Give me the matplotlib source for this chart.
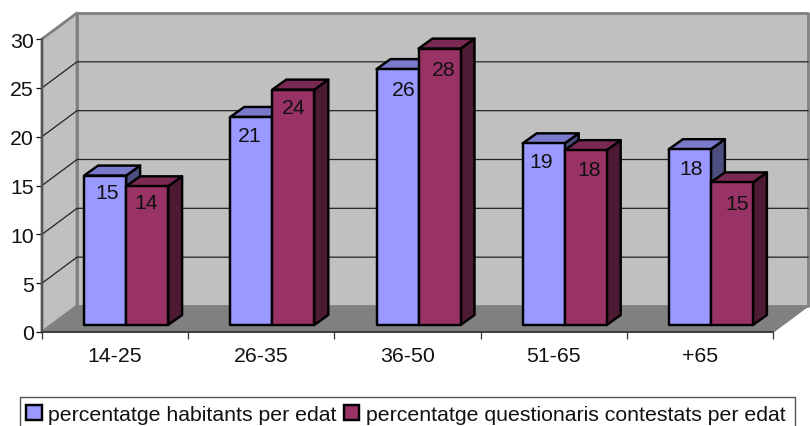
import matplotlib
matplotlib.use("Agg")
import matplotlib.pyplot as plt
from matplotlib.patches import Polygon, Patch, Rectangle
import numpy as np

categories = ["14-25", "26-35", "36-50", "51-65", "+65"]
habitants = [15.3, 21.3, 26.2, 18.6, 18.0]
questionaris = [14.2, 24.1, 28.3, 17.9, 14.6]
habitants_labels = ["15", "21", "26", "19", "18"]
questionaris_labels = ["14", "24", "28", "18", "15"]
series_names = ["percentatge habitants per edat", "percentatge questionaris contestats per edat"]
yticks = [0, 5, 10, 15, 20, 25, 30]

plt.rcParams["font.family"] = ["Liberation Sans", "DejaVu Sans"]
W, H = 810, 427
fig = plt.figure(figsize=(W / 100, H / 100), dpi=100, facecolor="white")
L, R, T, B = 42, 773, 40, 333
ax = fig.add_axes([L / W, 1 - B / H, (R - L) / W, (B - T) / H])
ax.set_xlim(0, 5)
ax.set_ylim(0, 30)
ax.patch.set_visible(False)

UX = 5 / (R - L)   # x units per pixel
UY = 30 / (B - T)  # y units per pixel
WX, WY = 35 * UX, 26 * UY    # depth of the room
DX, DY = 14 * UX, 10 * UY    # depth of a bar
BX, BY = 11 * UX, 7 * UY     # bar base offset
BW = 42 * UX
FS = 15.3
EDGE = 1.75

# label nudges in pixels (the labels sit slightly irregularly on the bars)
nudge_a = [(0, -1), (-4, 1), (4, 2), (-5, 0), (-1, 1)]
nudge_b = [(-4, -2), (-3, 0), (1, 3), (0, 1), (2, 3)]

GRAY = "#808080"
def poly(pts, fc, ec="none", lw=0, z=1):
    ax.add_patch(Polygon(pts, closed=True, facecolor=fc, edgecolor=ec, linewidth=lw,
                         zorder=z, clip_on=False, joinstyle="round"))

# room
poly([(WX, WY), (5 + WX, WY), (5 + WX, 30 + WY), (WX, 30 + WY)], "#c0c0c0", GRAY, 2.0, 1)
poly([(0, 0), (WX, WY), (WX, 30 + WY), (0, 30)], "#c0c0c0", GRAY, 2.0, 1)
poly([(0, 0), (5, 0), (5 + WX, WY), (WX, WY)], GRAY, z=2)
ax.plot([5, 5 + WX], [0, WY], color=GRAY, lw=1.2, zorder=2, clip_on=False)
for v in yticks[1:-1]:
    ax.plot([0, WX, 5 + WX], [v, v + WY, v + WY], color="#222222", lw=0.9, zorder=2, clip_on=False)

# bars
def bar3d(x0, v, front, top, side, z):
    y0 = BY
    x1 = x0 + BW
    yt = y0 + v
    poly([(x1, y0), (x1 + DX, y0 + DY), (x1 + DX, yt + DY), (x1, yt)], side, "black", EDGE, z)
    poly([(x0, yt), (x1, yt), (x1 + DX, yt + DY), (x0 + DX, yt + DY)], top, "black", EDGE, z)
    poly([(x0, y0), (x1, y0), (x1, yt), (x0, yt)], front, "black", EDGE, z)

for i in range(len(categories)):
    c = i + 0.5 + BX
    bar3d(c - BW, habitants[i], "#9999ff", "#7a7acc", "#4d4d80", 3 + i)
    bar3d(c, questionaris[i], "#993366", "#7a2952", "#4d1a33", 3 + i + 0.1)
    ax.text(c - BW / 2 + (2 + nudge_a[i][0]) * UX, BY + habitants[i] - (18 + nudge_a[i][1]) * UY,
            habitants_labels[i], ha="center", va="center", fontsize=FS, color="#111111", zorder=10)
    ax.text(c + BW / 2 + (3 + nudge_b[i][0]) * UX, BY + questionaris[i] - (18 + nudge_b[i][1]) * UY,
            questionaris_labels[i], ha="center", va="center", fontsize=FS, color="#111111", zorder=10)

# axes
for s in ("top", "right"):
    ax.spines[s].set_visible(False)
ax.spines["left"].set_color("#555555")
ax.spines["left"].set_linewidth(1.6)
ax.spines["bottom"].set_color("#333333")
ax.spines["bottom"].set_linewidth(1.3)
ax.spines["left"].set_zorder(3)
ax.spines["bottom"].set_zorder(3)
ax.set_yticks(yticks)
ax.tick_params(axis="y", labelsize=FS, length=4, width=0.9, pad=2, colors="#111111")
ax.set_xticks(np.arange(len(categories)) + 0.5)
ax.set_xticklabels(categories)
ax.set_xticks(np.arange(len(categories) + 1), minor=True)
ax.tick_params(axis="x", which="major", labelsize=FS, length=0, pad=10, colors="#111111")
ax.tick_params(axis="x", which="minor", length=5, width=0.9, color="#333333")

# legend: frame runs off the bottom of the picture
fig.add_artist(Rectangle((20 / W, 1 - 440 / H), 775 / W, 42 / H, transform=fig.transFigure,
                         facecolor="white", edgecolor="#555555", linewidth=1.0))
handles = [Patch(facecolor="#9999ff", edgecolor="black", linewidth=EDGE),
           Patch(facecolor="#993366", edgecolor="black", linewidth=EDGE)]
leg = fig.legend(handles, series_names, loc="lower left", bbox_to_anchor=(20 / W, -4 / H),
                 ncol=2, fontsize=FS, frameon=False, borderaxespad=0,
                 handlelength=0.72, handleheight=0.72,
                 handletextpad=0.3, columnspacing=0.35, borderpad=0.3, labelcolor="#111111")
leg.set_zorder(20)

fig.savefig("out.png", dpi=100, facecolor="white")
